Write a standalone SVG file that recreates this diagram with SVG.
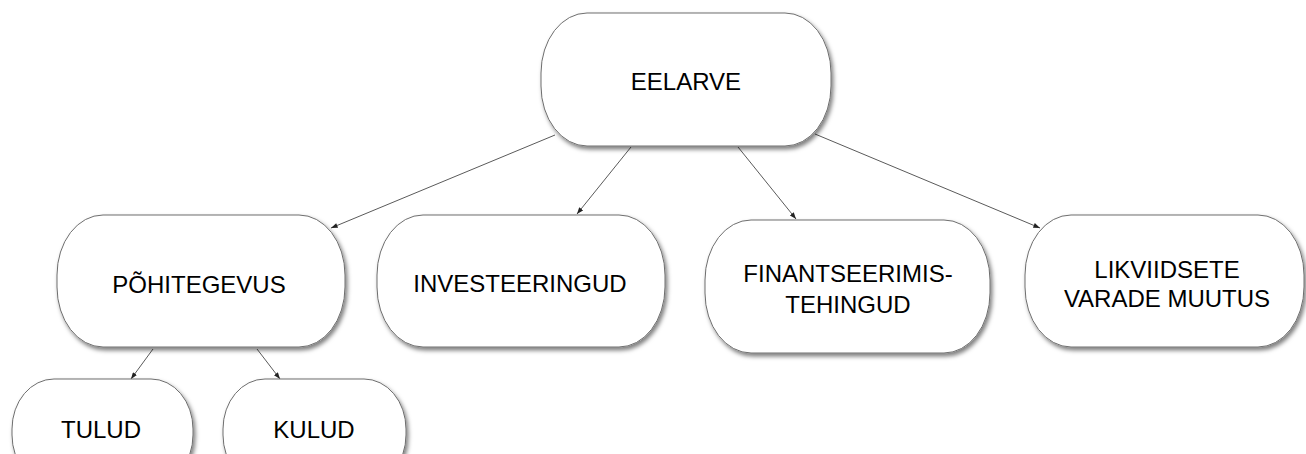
<svg xmlns="http://www.w3.org/2000/svg" width="1306" height="454" viewBox="0 0 1306 454">
  <defs>
    <filter id="sh" x="-10%" y="-10%" width="125%" height="130%">
      <feDropShadow dx="2" dy="3" stdDeviation="2" flood-color="#000" flood-opacity="0.5"/>
    </filter>
    <marker id="ah" viewBox="0 0 8 6" refX="8" refY="3" markerWidth="7" markerHeight="5" orient="auto" markerUnits="userSpaceOnUse">
      <path d="M0,0 L8,3 L0,6 Z" fill="#222"/>
    </marker>
  </defs>
  <style>
    .node rect { fill: #fff; stroke: #6e6e6e; stroke-width: 1; filter: url(#sh); }
    .node text { font-family: "Liberation Sans", Arial, sans-serif; font-size: 24px; fill: #000; text-anchor: middle; }
    .conn line { stroke: #5a5a5a; stroke-width: 1; marker-end: url(#ah); }
  </style>
  <rect width="1306" height="454" fill="#fff"/>
  <g id="connectors" class="conn">
    <line x1="555" y1="135" x2="331" y2="228"/>
    <line x1="631" y1="147" x2="577" y2="214"/>
    <line x1="738" y1="147" x2="796" y2="219"/>
    <line x1="815" y1="134" x2="1040" y2="228"/>
    <line x1="153" y1="349" x2="131" y2="379"/>
    <line x1="257" y1="349" x2="280" y2="379"/>
  </g>
  <g id="eelarve" class="node">
    <rect x="541" y="13" width="290" height="133" rx="46" ry="60"/>
    <text x="686" y="90">EELARVE</text>
  </g>
  <g id="pohitegevus" class="node">
    <rect x="57" y="215" width="288" height="132" rx="46" ry="60"/>
    <text x="199" y="293">PÕHITEGEVUS</text>
  </g>
  <g id="investeeringud" class="node">
    <rect x="377" y="215" width="288" height="132" rx="46" ry="60"/>
    <text x="520" y="292">INVESTEERINGUD</text>
  </g>
  <g id="finantseerimistehingud" class="node">
    <rect x="705" y="220" width="285" height="133" rx="46" ry="60"/>
    <text x="848" y="282">FINANTSEERIMIS-</text>
    <text x="848" y="313">TEHINGUD</text>
  </g>
  <g id="likviidsete" class="node">
    <rect x="1025" y="215" width="279" height="132" rx="46" ry="60"/>
    <text x="1167" y="278">LIKVIIDSETE</text>
    <text x="1167" y="307">VARADE MUUTUS</text>
  </g>
  <g id="tulud" class="node">
    <rect x="12" y="379" width="181" height="106" rx="42" ry="50"/>
    <text x="101" y="438">TULUD</text>
  </g>
  <g id="kulud" class="node">
    <rect x="223" y="379" width="183" height="106" rx="42" ry="50"/>
    <text x="314" y="438">KULUD</text>
  </g>
</svg>
